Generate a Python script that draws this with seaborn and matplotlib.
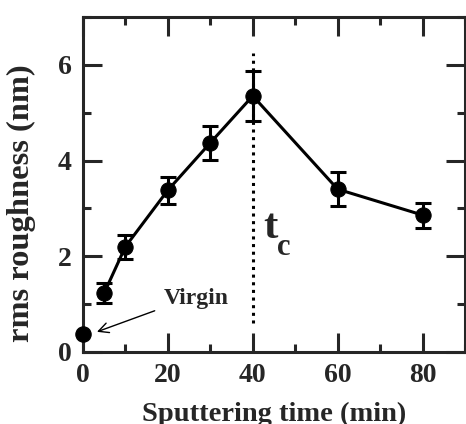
import matplotlib
matplotlib.use("Agg")
import matplotlib.pyplot as plt
import seaborn as sns
import pandas as pd
from matplotlib.ticker import MultipleLocator

sns.set_style("ticks")
plt.rcParams['font.family'] = ['Liberation Serif', 'DejaVu Serif']
plt.rcParams['font.weight'] = 'bold'

# Data
virgin_time = [0]
virgin_rms = [0.38]
sputter_time = [5, 10, 20, 30, 40, 60, 80]
sputter_rms = [1.23, 2.20, 3.38, 4.37, 5.35, 3.40, 2.86]
sputter_err = [0.20, 0.25, 0.28, 0.35, 0.52, 0.35, 0.26]
tc_time = 40

df = pd.DataFrame({"time": sputter_time, "rms": sputter_rms, "err": sputter_err})
dv = pd.DataFrame({"time": virgin_time, "rms": virgin_rms})

fig = plt.figure(figsize=(4.66, 4.24), dpi=100)
ax = fig.add_axes([0.178, 0.170, 0.820, 0.790])

ax.errorbar(df["time"], df["rms"], yerr=df["err"], fmt='none', ecolor='black',
            elinewidth=2.2, capsize=5.5, capthick=2.2, zorder=3)
sns.lineplot(data=df, x="time", y="rms", ax=ax, color='black', linewidth=2.2,
             marker='o', markersize=11, markeredgecolor='black', zorder=4)
sns.scatterplot(data=dv, x="time", y="rms", ax=ax, color='black', s=121,
                edgecolor='black', zorder=5, clip_on=False)

ax.plot([tc_time, tc_time], [0.6, 6.25], color='black', linewidth=2.2,
        linestyle=(0, (1, 1.5)), dash_capstyle='butt', zorder=2)

ax.text(42.4, 2.39, "t", fontsize=31, fontweight='bold', ha='left', va='baseline')
ax.text(45.6, 2.03, "c", fontsize=22, fontweight='bold', ha='left', va='baseline')

ax.text(26.7, 1.11, "Virgin", fontsize=17, fontweight='bold', ha='center', va='center')
ax.annotate("", xy=(3.3, 0.42), xytext=(16.9, 0.86),
            arrowprops=dict(arrowstyle='->', color='black', lw=1.0,
                            shrinkA=0, shrinkB=0, mutation_scale=18))

ax.set_xlim(0, 90)
ax.set_ylim(0, 7)
ax.xaxis.set_major_locator(MultipleLocator(20))
ax.xaxis.set_minor_locator(MultipleLocator(10))
ax.yaxis.set_major_locator(MultipleLocator(2))
ax.yaxis.set_minor_locator(MultipleLocator(1))
ax.tick_params(which='both', direction='in', top=True, right=True,
               width=2.2, labelsize=20, pad=8)
ax.tick_params(which='major', length=13.5)
ax.tick_params(which='minor', length=6)
for lab in ax.get_xticklabels() + ax.get_yticklabels():
    lab.set_fontweight('bold')
for s in ax.spines.values():
    s.set_linewidth(2.2)
    s.set_visible(True)

ax.set_xlabel("Sputtering time (min)", fontsize=20.5, fontweight='bold', labelpad=10)
ax.set_ylabel("rms roughness (nm)", fontsize=23.4, fontweight='bold')
ax.yaxis.set_label_coords(-0.123, 0.443)

fig.savefig("out.png", dpi=100)
